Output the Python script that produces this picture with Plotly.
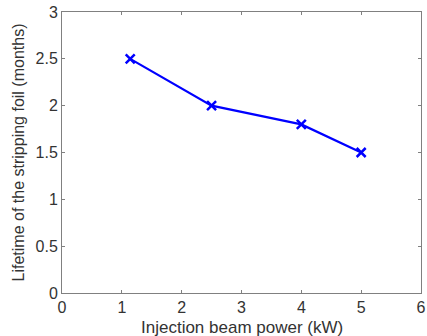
import plotly.graph_objects as go

power_kw = [1.14, 2.5, 4.0, 5.0]
lifetime_months = [2.5, 2.0, 1.8, 1.5]
x_ticks = [0, 1, 2, 3, 4, 5, 6]
y_ticks = [0, 0.5, 1, 1.5, 2, 2.5, 3]
y_tick_text = ["0", "0.5", "1", "1.5", "2", "2.5", "3"]
x_title = "Injection beam power (kW)"
y_title = "Lifetime of the stripping foil (months)"

FONT = "Liberation Sans, Arial"
fig = go.Figure(go.Scatter(
    x=power_kw, y=lifetime_months, mode="lines+markers",
    line=dict(color="#0000ff", width=2.2),
    marker=dict(symbol="x-thin", size=9, line=dict(color="#0000ff", width=2.5)),
))

axis_common = dict(
    showgrid=False, zeroline=False, showline=True, mirror="ticks",
    linecolor="#808080", linewidth=1, ticks="inside", ticklen=3,
    tickcolor="#808080", tickfont=dict(family=FONT, size=16, color="#333333"),
    automargin=False,
)
fig.update_xaxes(range=[0, 6], tickvals=x_ticks, **axis_common)
fig.update_yaxes(range=[0, 3], tickvals=y_ticks, ticktext=y_tick_text,
                 title_text=y_title,
                 title_font=dict(family=FONT, size=16, color="#333333"),
                 title_standoff=6, **axis_common)
fig.add_annotation(text=x_title, xref="paper", yref="paper", x=0.5, y=0,
                   xanchor="center", yanchor="top", yshift=-23, showarrow=False,
                   font=dict(family=FONT, size=17, color="#333333"))
fig.update_layout(
    width=427, height=336, margin=dict(l=62, r=6, t=12, b=43),
    plot_bgcolor="white", paper_bgcolor="white", showlegend=False,
)
fig.write_html("out.html", config={"displayModeBar": False},
               post_script="document.body.style.margin='0px';")
